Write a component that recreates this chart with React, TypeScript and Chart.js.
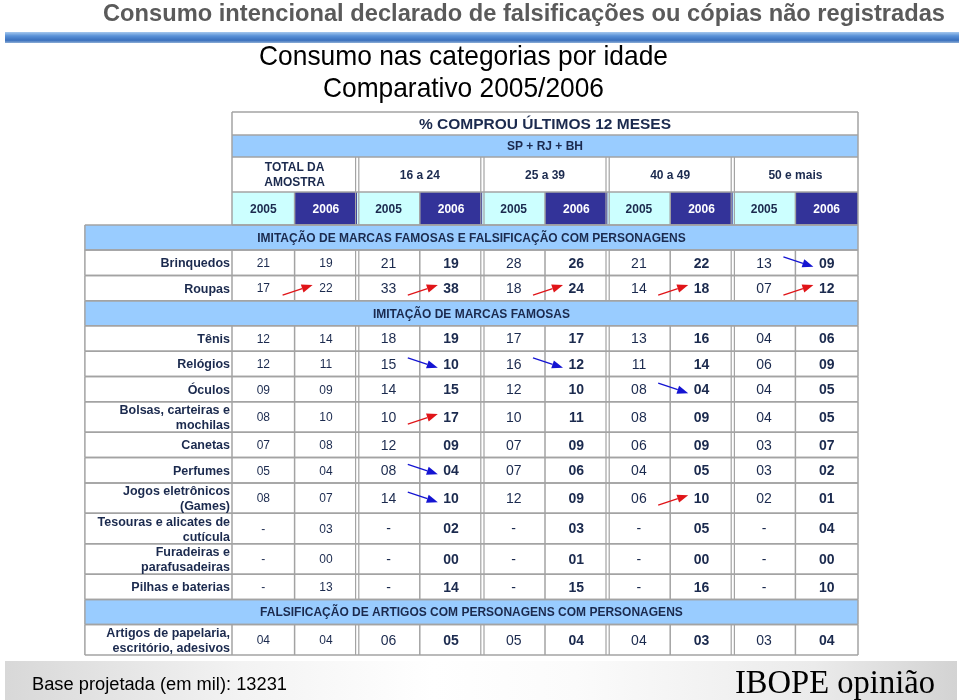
import React, { useEffect, useRef } from "react";
import { Chart, registerables } from "chart.js";

Chart.register(...registerables);

// ---------------- DATA ----------------
const mainTitle = "Consumo intencional declarado de falsificações ou cópias não registradas";
const subtitleLines = ["Consumo nas categorias por idade", "Comparativo 2005/2006"];
const headerTitle = "% COMPROU ÚLTIMOS 12 MESES";
const headerRegion = "SP + RJ + BH";
const ageGroups = ["TOTAL DA\nAMOSTRA", "16 a 24", "25 a 39", "40 a 49", "50 e mais"];
const years = ["2005", "2006"];
const footerBase = "Base projetada (em mil): 13231";
const footerBrand = "IBOPE opinião";

const categories = [
  "Brinquedos",
  "Roupas",
  "Tênis",
  "Relógios",
  "Óculos",
  "Bolsas, carteiras e\nmochilas",
  "Canetas",
  "Perfumes",
  "Jogos eletrônicos\n(Games)",
  "Tesouras e alicates de\ncutícula",
  "Furadeiras e\nparafusadeiras",
  "Pilhas e baterias",
  "Artigos de papelaria,\nescritório, adesivos",
];

const sectionTitles = [
  "IMITAÇÃO DE MARCAS FAMOSAS E FALSIFICAÇÃO COM PERSONAGENS",
  "IMITAÇÃO DE MARCAS FAMOSAS",
  "FALSIFICAÇÃO DE ARTIGOS COM PERSONAGENS COM PERSONAGENS",
];
const sectionStarts = [0, 2, 12];

const total2005 = [21, 17, 12, 12, 9, 8, 7, 5, 8, null, null, null, 4];
const total2006 = [19, 22, 14, 11, 9, 10, 8, 4, 7, 3, 0, 13, 4];
const age16to24_2005 = [21, 33, 18, 15, 14, 10, 12, 8, 14, null, null, null, 6];
const age16to24_2006 = [19, 38, 19, 10, 15, 17, 9, 4, 10, 2, 0, 14, 5];
const age25to39_2005 = [28, 18, 17, 16, 12, 10, 7, 7, 12, null, null, null, 5];
const age25to39_2006 = [26, 24, 17, 12, 10, 11, 9, 6, 9, 3, 1, 15, 4];
const age40to49_2005 = [21, 14, 13, 11, 8, 8, 6, 4, 6, null, null, null, 4];
const age40to49_2006 = [22, 18, 16, 14, 4, 9, 9, 5, 10, 5, 0, 16, 3];
const age50plus_2005 = [13, 7, 4, 6, 4, 4, 3, 3, 2, null, null, null, 3];
const age50plus_2006 = [9, 12, 6, 9, 5, 5, 7, 2, 1, 4, 0, 10, 4];

const series = [
  total2005, total2006,
  age16to24_2005, age16to24_2006,
  age25to39_2005, age25to39_2006,
  age40to49_2005, age40to49_2006,
  age50plus_2005, age50plus_2006,
];

// highlighted changes (row index, age group index)
const arrowRows = [0, 1, 1, 1, 1, 1, 3, 3, 4, 5, 7, 8, 8];
const arrowGroups = [4, 0, 1, 2, 3, 4, 1, 2, 3, 1, 1, 1, 3];

// ---------------- STYLE / LAYOUT ----------------
const SANS = "'Liberation Sans', Arial, Helvetica, sans-serif";
const SERIF = "'Liberation Serif', 'Times New Roman', Times, serif";
const NAVY = "#1b2a4e";
const GRID = "#a3a3a3";
const LIGHT_BLUE = "#99ccff";
const CYAN = "#ccffff";
const DARK_BLUE = "#333399";
const LABEL_START = -2.35;
const HEADER_UNITS = [0.91, 0.87, 1.38, 1.3];
const SECTION_UNITS = 0.99;
const ROW_UNITS = 1.0;
const ROW2_UNITS = 1.2;

function buildLayout() {
  const headerEdges = [0];
  HEADER_UNITS.forEach((h) => headerEdges.push(headerEdges[headerEdges.length - 1] + h));
  let y = headerEdges[4];
  const sections: { title: string; top: number; bottom: number }[] = [];
  const rows: { top: number; bottom: number; center: number }[] = [];
  categories.forEach((c, i) => {
    const s = sectionStarts.indexOf(i);
    if (s >= 0) {
      sections.push({ title: sectionTitles[s], top: y, bottom: y + SECTION_UNITS });
      y += SECTION_UNITS;
    }
    const h = c.includes("\n") ? ROW2_UNITS : ROW_UNITS;
    rows.push({ top: y, bottom: y + h, center: y + h / 2 });
    y += h;
  });
  return { headerEdges, sections, rows, total: y };
}

const fmt = (v: number | null) => (v === null ? "-" : String(v).padStart(2, "0"));

function fitText(ctx: CanvasRenderingContext2D, text: string, left: number, baseline: number, width: number, font: string, color: string) {
  ctx.save();
  ctx.font = font;
  ctx.fillStyle = color;
  ctx.textAlign = "left";
  ctx.textBaseline = "alphabetic";
  const w = ctx.measureText(text).width;
  ctx.translate(left, baseline);
  ctx.scale(width / w, 1);
  ctx.fillText(text, 0, 0);
  ctx.restore();
}

function drawLines(ctx: CanvasRenderingContext2D, text: string, x: number, cy: number, spacing: number) {
  const lines = text.split("\n");
  lines.forEach((ln, k) => {
    ctx.fillText(ln, x, cy + (k - (lines.length - 1) / 2) * spacing);
  });
}

function makePlugin(layout: ReturnType<typeof buildLayout>) {
  return {
    id: "tablePlugin",
    beforeDatasetsDraw(chart: any) {
      const ctx: CanvasRenderingContext2D = chart.ctx;
      const xs = chart.scales.x;
      const ys = chart.scales.y;
      const X = (v: number) => xs.getPixelForValue(v);
      const Y = (v: number) => ys.getPixelForValue(v);
      const he = layout.headerEdges;

      ctx.save();
      // ---- top title + band
      fitText(ctx, mainTitle, 103, 21, 842, `bold 24px ${SANS}`, "#5a5a5a");
      const band = ctx.createLinearGradient(0, 32, 0, 43);
      band.addColorStop(0, "#a5c8ee");
      band.addColorStop(0.35, "#5a92d8");
      band.addColorStop(0.75, "#3a70bd");
      band.addColorStop(1, "#8daed6");
      ctx.fillStyle = band;
      ctx.fillRect(5, 32, 954, 11);
      fitText(ctx, subtitleLines[0], 259, 65, 409, `28px ${SANS}`, "#000");
      fitText(ctx, subtitleLines[1], 323, 97, 281, `28px ${SANS}`, "#000");

      // ---- footer band
      const fg = ctx.createLinearGradient(5, 0, 957, 0);
      fg.addColorStop(0, "#d8d8d8");
      fg.addColorStop(0.25, "#f3f3f3");
      fg.addColorStop(0.45, "#ffffff");
      fg.addColorStop(0.6, "#fbfbfb");
      fg.addColorStop(0.85, "#ebebeb");
      fg.addColorStop(1, "#d3d3d3");
      ctx.fillStyle = fg;
      ctx.fillRect(5, 661, 952, 39);
      fitText(ctx, footerBase, 32, 690, 255, `18px ${SANS}`, "#000");
      fitText(ctx, footerBrand, 735, 693, 200, `34px ${SERIF}`, "#000");

      // ---- header backgrounds
      ctx.fillStyle = LIGHT_BLUE;
      ctx.fillRect(X(0), Y(he[1]), X(10) - X(0), Y(he[2]) - Y(he[1]));
      for (let c = 0; c < 10; c++) {
        ctx.fillStyle = c % 2 === 0 ? CYAN : DARK_BLUE;
        ctx.fillRect(X(c), Y(he[3]), X(c + 1) - X(c), Y(he[4]) - Y(he[3]));
      }
      // ---- section backgrounds
      layout.sections.forEach((s) => {
        ctx.fillStyle = LIGHT_BLUE;
        ctx.fillRect(X(LABEL_START), Y(s.top), X(10) - X(LABEL_START), Y(s.bottom) - Y(s.top));
      });

      // ---- grid
      ctx.strokeStyle = GRID;
      const line = (x1: number, y1: number, x2: number, y2: number, w = 1.5) => {
        ctx.lineWidth = w;
        ctx.beginPath();
        ctx.moveTo(x1, y1);
        ctx.lineTo(x2, y2);
        ctx.stroke();
      };
      const vline = (xv: number, y1: number, y2: number) => {
        if (xv > 0 && xv < 10 && xv % 2 === 0) {
          line(X(xv) - 1.6, y1, X(xv) - 1.6, y2, 1.2);
          line(X(xv) + 1.6, y1, X(xv) + 1.6, y2, 1.2);
        } else {
          line(X(xv), y1, X(xv), y2);
        }
      };
      // header
      for (let k = 0; k <= 4; k++) line(X(0), Y(he[k]), X(10), Y(he[k]));
      line(X(0), Y(he[0]), X(0), Y(he[4]));
      line(X(10), Y(he[0]), X(10), Y(he[4]));
      [2, 4, 6, 8].forEach((g) => vline(g, Y(he[2]), Y(he[4])));
      [1, 3, 5, 7, 9].forEach((g) => vline(g, Y(he[3]), Y(he[4])));
      // sections
      layout.sections.forEach((s) => {
        line(X(LABEL_START), Y(s.top), X(10), Y(s.top));
        line(X(LABEL_START), Y(s.bottom), X(10), Y(s.bottom));
        line(X(LABEL_START), Y(s.top), X(LABEL_START), Y(s.bottom));
        line(X(10), Y(s.top), X(10), Y(s.bottom));
      });
      // rows
      layout.rows.forEach((r) => {
        line(X(LABEL_START), Y(r.bottom), X(10), Y(r.bottom));
        line(X(LABEL_START), Y(r.top), X(10), Y(r.top));
        vline(LABEL_START, Y(r.top), Y(r.bottom));
        for (let c = 0; c <= 10; c++) vline(c, Y(r.top), Y(r.bottom));
      });

      // ---- header text
      ctx.textAlign = "center";
      ctx.textBaseline = "middle";
      ctx.fillStyle = NAVY;
      ctx.font = `bold 15.5px ${SANS}`;
      ctx.fillText(headerTitle, X(5), (Y(he[0]) + Y(he[1])) / 2 + 1);
      ctx.font = `bold 12px ${SANS}`;
      ctx.fillText(headerRegion, X(5), (Y(he[1]) + Y(he[2])) / 2 + 1);
      ageGroups.forEach((g, k) => {
        drawLines(ctx, g, X(2 * k + 1), (Y(he[2]) + Y(he[3])) / 2 + 1, 15);
      });
      for (let c = 0; c < 10; c++) {
        ctx.fillStyle = c % 2 === 0 ? NAVY : "#ffffff";
        ctx.fillText(years[c % 2], X(c + 0.5), (Y(he[3]) + Y(he[4])) / 2 + 1);
      }
      // section titles
      ctx.fillStyle = NAVY;
      layout.sections.forEach((s) => {
        ctx.fillText(s.title, (X(LABEL_START) + X(10)) / 2, (Y(s.top) + Y(s.bottom)) / 2 + 1);
      });
      // row labels
      ctx.textAlign = "right";
      ctx.font = `bold 12.5px ${SANS}`;
      categories.forEach((c, i) => {
        const r = layout.rows[i];
        drawLines(ctx, c, X(0) - 2, (Y(r.top) + Y(r.bottom)) / 2 + 1, 15);
      });
      ctx.restore();
    },
    afterDatasetsDraw(chart: any) {
      const ctx: CanvasRenderingContext2D = chart.ctx;
      ctx.save();
      ctx.textAlign = "center";
      ctx.textBaseline = "middle";
      ctx.fillStyle = NAVY;
      series.forEach((vals, c) => {
        const meta = chart.getDatasetMeta(c);
        const isTotal = c < 2;
        const bold = !isTotal && c % 2 === 1;
        ctx.font = `${bold ? "bold " : ""}${isTotal ? 12 : 14}px ${SANS}`;
        meta.data.forEach((el: any, i: number) => {
          ctx.fillText(fmt(vals[i]), el.x, el.y + 1);
        });
      });
      // arrows
      arrowRows.forEach((i, k) => {
        const g = arrowGroups[k];
        const e0 = chart.getDatasetMeta(2 * g).data[i];
        const e1 = chart.getDatasetMeta(2 * g + 1).data[i];
        const bx = (e0.x + e1.x) / 2;
        const cy = e0.y;
        const up = (series[2 * g + 1][i] ?? 0) > (series[2 * g][i] ?? 0);
        const color = up ? "#e01418" : "#1414d2";
        const x1 = bx - 12, x2 = bx + 18;
        const y1 = up ? cy + 7 : cy - 6;
        const y2 = up ? cy - 3 : cy + 4;
        const ang = Math.atan2(y2 - y1, x2 - x1);
        const hl = 11, hw = 4.2;
        const bxh = x2 - hl * Math.cos(ang), byh = y2 - hl * Math.sin(ang);
        ctx.strokeStyle = color;
        ctx.fillStyle = color;
        ctx.lineWidth = 1.3;
        ctx.beginPath();
        ctx.moveTo(x1, y1);
        ctx.lineTo(bxh, byh);
        ctx.stroke();
        ctx.beginPath();
        ctx.moveTo(x2, y2);
        ctx.lineTo(bxh - hw * Math.sin(ang), byh + hw * Math.cos(ang));
        ctx.lineTo(bxh + hw * Math.sin(ang), byh - hw * Math.cos(ang));
        ctx.closePath();
        ctx.fill();
      });
      ctx.restore();
    },
  };
}

export default function App() {
  const ref = useRef<HTMLCanvasElement | null>(null);
  useEffect(() => {
    if (!ref.current) return;
    const layout = buildLayout();
    const datasets = series.map((vals, c) => ({
      label: `col${c}`,
      data: vals.map((_v, i) => ({ x: c + 0.5, y: layout.rows[i].center })),
      pointRadius: 0,
      pointHoverRadius: 0,
      showLine: false,
    }));
    const chart = new Chart(ref.current, {
      type: "scatter",
      data: { datasets },
      options: {
        animation: false,
        responsive: false,
        devicePixelRatio: 1,
        events: [],
        layout: { padding: { left: 232, right: 101, top: 112, bottom: 45 } },
        scales: {
          x: { type: "linear", min: 0, max: 10, display: false },
          y: { type: "linear", min: 0, max: layout.total, reverse: true, display: false },
        },
        plugins: {
          legend: { display: false },
          tooltip: { enabled: false },
          title: { display: false },
        },
      },
      plugins: [makePlugin(layout)],
    } as any);
    return () => chart.destroy();
  }, []);
  return (
    <div style={{ position: "absolute", left: 0, top: 0, width: 959, height: 700, background: "#fff" }}>
      <canvas ref={ref} width={959} height={700} style={{ display: "block" }} />
    </div>
  );
}
